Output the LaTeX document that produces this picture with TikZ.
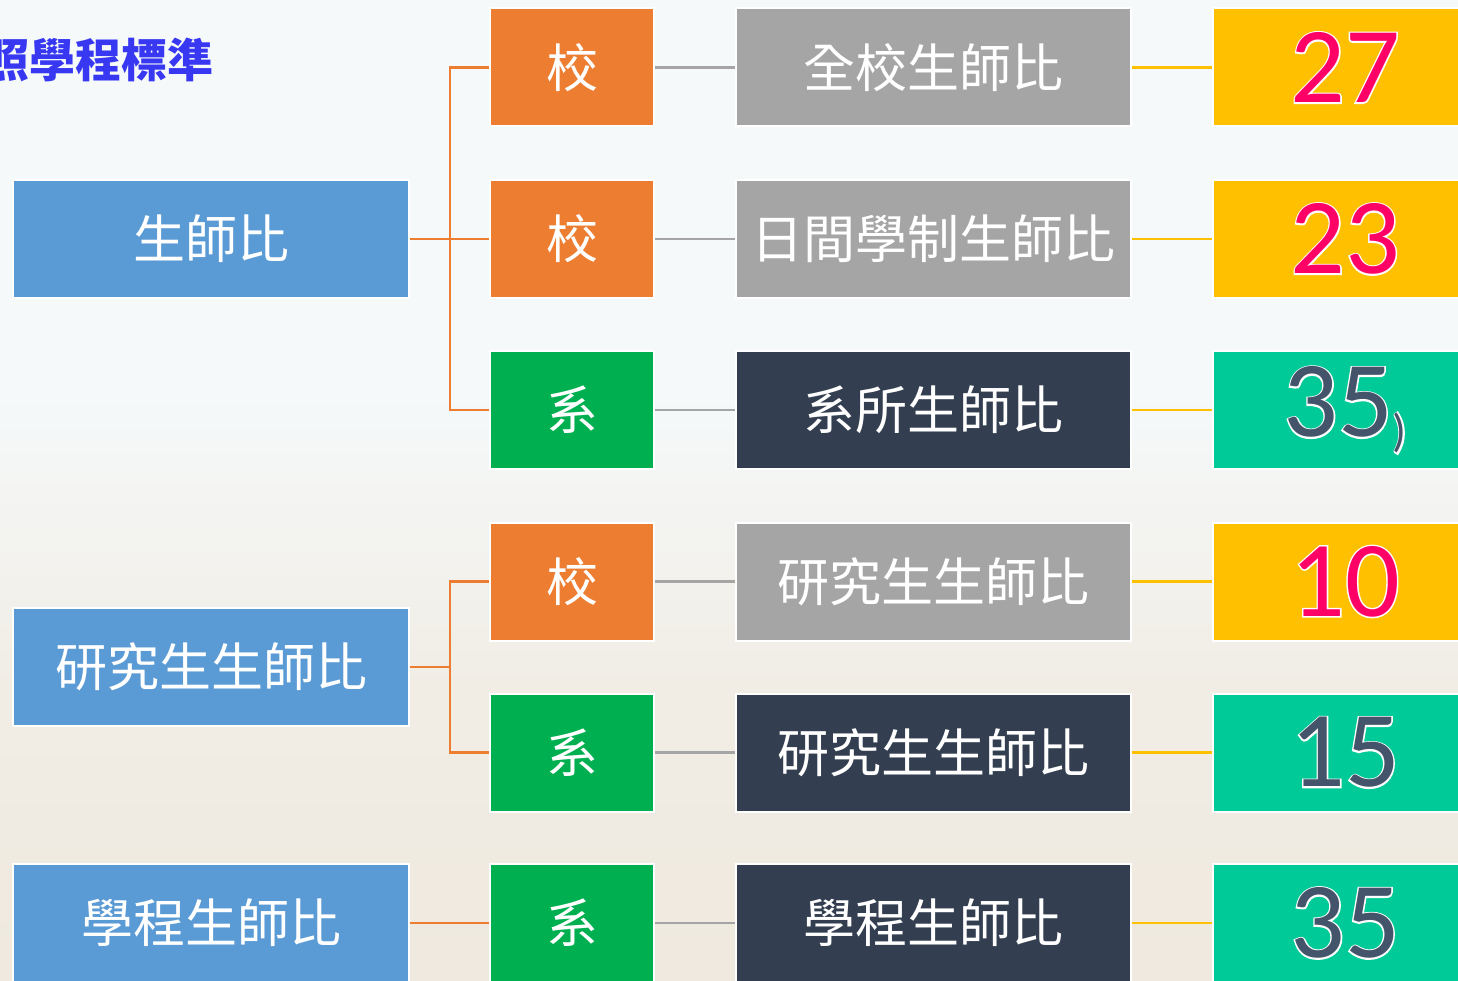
\documentclass[tikz,border=0pt]{standalone}
\usepackage{fontspec}
\setmainfont{Carlito}
\newfontfamily\cjk{Noto Sans CJK TC}
\definecolor{blu}{HTML}{5B9BD5}
\definecolor{orn}{HTML}{ED7D31}
\definecolor{grn}{HTML}{00B050}
\definecolor{gry}{HTML}{A5A5A5}
\definecolor{drk}{HTML}{333F50}
\definecolor{ylw}{HTML}{FFC000}
\definecolor{tea}{HTML}{00CA98}
\definecolor{pnk}{HTML}{FF0066}
\definecolor{slt}{HTML}{44546A}
\definecolor{ttl}{HTML}{3838F2}
\definecolor{bgtop}{HTML}{DFF2F7}
\definecolor{bgmid}{HTML}{F5F9FA}
\definecolor{bgbeige}{HTML}{F1EDE5}
\definecolor{bgbot}{HTML}{ECE2D4}
\pgfdeclareverticalshading{bgsh}{100bp}{color(0bp)=(bgbot); color(40bp)=(bgbeige); color(55bp)=(bgmid); color(75bp)=(bgmid); color(100bp)=(bgtop)}
\newcommand{\outl}[1]{\rlap{\special{pdf:literal 1 Tr 1 1 1 RG 3 w}#1\special{pdf:literal 0 Tr}}#1}
\tikzset{
  box/.style={draw=white, line width=2pt, inner sep=0pt, minimum height=118pt, text=white, font=\cjk\fontsize{52}{60}\selectfont},
  lbox/.style={box, fill=blu, minimum width=396pt},
  tagbox/.style={box, minimum width=164pt},
  itembox/.style={box, minimum width=395pt},
  numbox/.style={draw=white, line width=2pt, inner sep=0pt, minimum height=118pt, minimum width=264pt, font=\fontsize{108}{110}\selectfont},
  oline/.style={draw=orn, line width=2.5pt},
  gline/.style={draw=gry, line width=2.5pt},
  yline/.style={draw=ylw, line width=2.5pt}
}
\begin{document}
\begin{tikzpicture}[x=1pt,y=-1pt]
\useasboundingbox (0,0) rectangle (1458,981);
\shade[shading=bgsh] (0,0) rectangle (1458,981);
\node[anchor=east, inner sep=0pt, text=ttl, font=\cjk\bfseries\fontsize{46}{50}\selectfont] (title) at (214,60) {照學程標準};
% left boxes
\node[lbox] (L1) at (211,239) {生師比};
\node[lbox] (L2) at (211,667) {研究生生師比};
\node[lbox] (L3) at (211,923) {學程生師比};
% tag column
\node[tagbox, fill=orn] (S1) at (572,67.5) {校};
\node[tagbox, fill=orn] (S2) at (572,239) {校};
\node[tagbox, fill=grn] (S3) at (572,410) {系};
\node[tagbox, fill=orn] (S4) at (572,581.5) {校};
\node[tagbox, fill=grn] (S5) at (572,752.5) {系};
\node[tagbox, fill=grn] (S6) at (572,923) {系};
% item column
\node[itembox, fill=gry] (I1) at (933.5,67.5) {全校生師比};
\node[itembox, fill=gry] (I2) at (933.5,239) {日間學制生師比};
\node[itembox, fill=drk] (I3) at (933.5,410) {系所生師比};
\node[itembox, fill=gry] (I4) at (933.5,581.5) {研究生生師比};
\node[itembox, fill=drk] (I5) at (933.5,752.5) {研究生生師比};
\node[itembox, fill=drk] (I6) at (933.5,923) {學程生師比};
% numbers
\node[numbox, fill=ylw, text=pnk] (N1) at (1345,67.5) {\outl{27}};
\node[numbox, fill=ylw, text=pnk] (N2) at (1345,239) {\outl{23}};
\node[numbox, fill=tea, text=slt] (N3) at (1345,410) {\outl{35}\raisebox{-10pt}{\fontsize{46}{46}\selectfont \outl{)}}};
\node[numbox, fill=ylw, text=pnk] (N4) at (1345,581.5) {\outl{10}};
\node[numbox, fill=tea, text=slt] (N5) at (1345,752.5) {\outl{15}};
\node[numbox, fill=tea, text=slt] (N6) at (1345,923) {\outl{35}};
% junctions
\coordinate (J1) at (450,239);
\coordinate (J2) at (450,667);
% orange connectors
\draw[oline] (L1.east) -- (J1);
\draw[oline] (J1) -- (S2.west);
\draw[oline] (S1.west) -- (S1.west -| J1) -- (S3.west -| J1) -- (S3.west);
\draw[oline] (L2.east) -- (J2);
\draw[oline] (S4.west) -- (S4.west -| J2) -- (S5.west -| J2) -- (S5.west);
\draw[oline] (L3.east) -- (S6.west);
% gray connectors
\foreach \i in {1,...,6} {\draw[gline] (S\i.east) -- (I\i.west);}
% yellow connectors
\foreach \i in {1,...,6} {\draw[yline] (I\i.east) -- (N\i.west);}
\end{tikzpicture}
\end{document}
